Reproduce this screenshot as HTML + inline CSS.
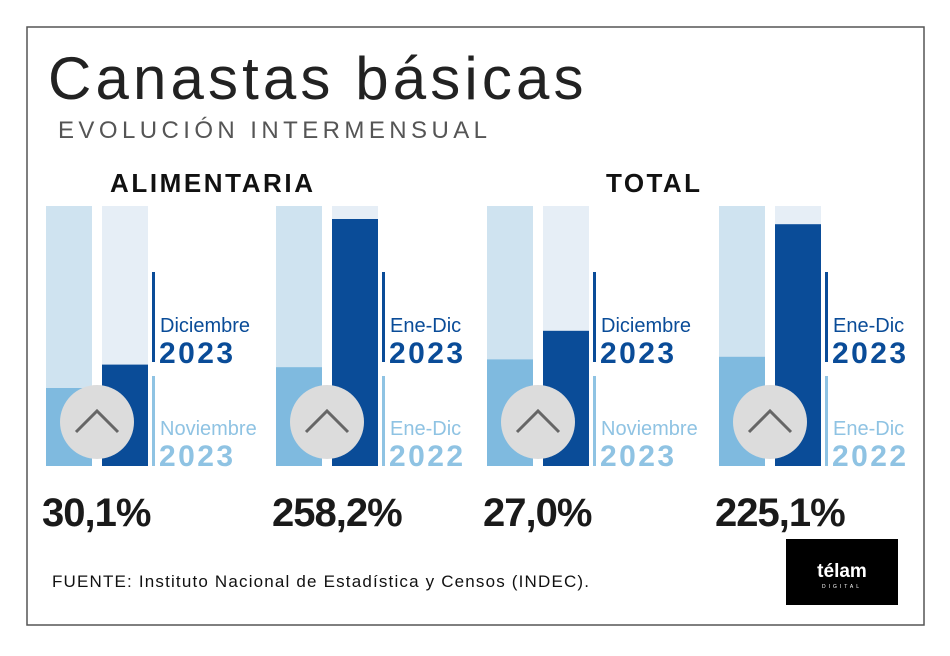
<!DOCTYPE html>
<html><head><meta charset="utf-8"><style>
body{margin:0;background:#fff;width:950px;height:651px;overflow:hidden;font-family:"Liberation Sans",sans-serif}
svg text{font-family:"Liberation Sans",sans-serif}
</style></head><body>
<svg id="c" width="950" height="651">
<rect x="27" y="27" width="897" height="598" fill="#fff" stroke="#555" stroke-width="1.5"/>
<text x="48" y="99" font-size="60" fill="#222" letter-spacing="1.5" textLength="537">Canastas básicas</text>
<text x="58" y="138" font-size="24" fill="#555" textLength="429">EVOLUCIÓN INTERMENSUAL</text>
<text x="110" y="192" font-size="26" font-weight="bold" fill="#111" textLength="203">ALIMENTARIA</text>
<text x="606" y="192" font-size="26" font-weight="bold" fill="#111" textLength="94">TOTAL</text>
<text x="52" y="587" font-size="17" fill="#111" textLength="537">FUENTE: Instituto Nacional de Estadística y Censos (INDEC).</text>
<g>
<rect x="786" y="539" width="112" height="66" fill="#000"/>
<text x="842" y="577" font-size="19" font-weight="bold" fill="#fff" text-anchor="middle">télam</text>
<text x="842" y="588" font-size="5" fill="#fff" text-anchor="middle" letter-spacing="3">DIGITAL</text>
</g>
<g id="marks"></g>
</svg>
<script>
const groupNames=["alimentaria-mensual","alimentaria-anual","total-mensual","total-anual"];
const prevValues=[30,38,41,42];
const currValues=[39,95,52,93];
const pctLabels=["30,1%","258,2%","27,0%","225,1%"];
const currLabelA=["Diciembre","Ene-Dic","Diciembre","Ene-Dic"];
const prevLabelA=["Noviembre","Ene-Dic","Noviembre","Ene-Dic"];
const currYear=["2023","2023","2023","2023"];
const prevYear=["2023","2022","2023","2022"];
const groupX=[46,276,487,719];
const barTop=206,barBottom=466,H=barBottom-barTop;
const yScale=v=>barBottom-v/100*H;
const g=document.getElementById('marks');
const NS="http://www.w3.org/2000/svg";
function mk(t,a,txt){const e=document.createElementNS(NS,t);for(const k in a)e.setAttribute(k,a[k]);if(txt)e.textContent=txt;g.appendChild(e);return e;}
groupNames.forEach((n,i)=>{
 const x=groupX[i];
 let e=mk('rect',{x:x,y:barTop,width:46,height:H,fill:'#cfe3f0'});
 
 
 e=mk('rect',{x:x+56,y:barTop,width:46,height:H,fill:'#e6eef6'});
 
 
 e=mk('rect',{x:x,y:yScale(prevValues[i]),width:46,height:barBottom-yScale(prevValues[i]),fill:'#7fbadf'});
 
 
 e=mk('rect',{x:x+56,y:yScale(currValues[i]),width:46,height:barBottom-yScale(currValues[i]),fill:'#0a4c98'});
 
 
 e=mk('circle',{cx:x+51,cy:422,r:37,fill:'#dcdcdc'});
 
 
 e=mk('polyline',{points:`${x+30},432 ${x+51},411 ${x+72},432`,fill:'none',stroke:'#666','stroke-width':3});
 
 
 const lx=x+106;
 e=mk('rect',{x:lx,y:272,width:3,height:90,fill:'#0a4c98'});
 
 
 e=mk('rect',{x:lx,y:376,width:3,height:90,fill:'#8fc3e3'});
 
 
 e=mk('text',{x:lx+8,y:332,'font-size':20,fill:'#0a4c98'},currLabelA[i]);
 
 
 e=mk('text',{x:lx+7,y:363,'font-size':30,'font-weight':'bold',fill:'#0a4c98',textLength:74},currYear[i]);
 
 
 e=mk('text',{x:lx+8,y:435,'font-size':20,fill:'#8fc3e3'},prevLabelA[i]);
 
 
 e=mk('text',{x:lx+7,y:466,'font-size':30,'font-weight':'bold',fill:'#8fc3e3',textLength:74},prevYear[i]);
 
 
 e=mk('text',{x:x-4,y:526,'font-size':40,'font-weight':'bold',fill:'#1a1a1a','letter-spacing':-1},pctLabels[i]);
 
 
});
</script>
</body></html>
